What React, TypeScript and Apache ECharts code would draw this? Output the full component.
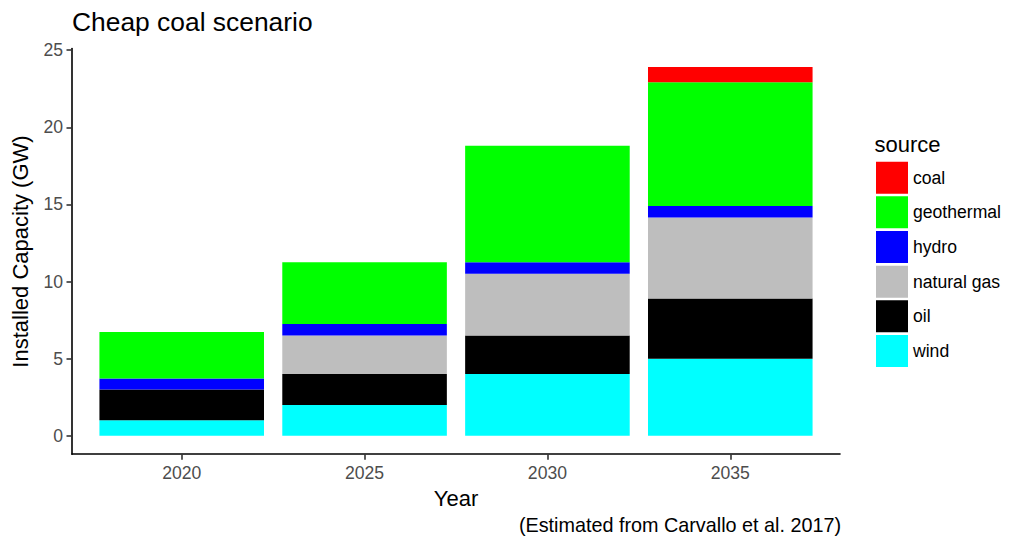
import React, { useEffect, useRef } from "react";
import * as echarts from "echarts";

const years = [2020, 2025, 2030, 2035];
const yTicks = [0, 5, 10, 15, 20, 25];
const wind = [1, 2, 4, 5];
const oil = [2, 2, 2.5, 3.9];
const naturalGas = [0, 2.5, 4, 5.25];
const hydro = [0.72, 0.75, 0.75, 0.74];
const geothermal = [3.0, 4.0, 7.55, 8.03];
const coal = [0, 0, 0, 0.99];

const legendOrder = ["coal", "geothermal", "hydro", "natural gas", "oil", "wind"];
const stackOrder: [string, number[], string][] = [
  ["wind", wind, "#00FFFF"],
  ["oil", oil, "#000000"],
  ["natural gas", naturalGas, "#BEBEBE"],
  ["hydro", hydro, "#0000FF"],
  ["geothermal", geothermal, "#00FF00"],
  ["coal", coal, "#FF0000"],
];

const FONT = "'Liberation Sans', Arial, sans-serif";

export default function App() {
  const ref = useRef<HTMLDivElement>(null);
  useEffect(() => {
    if (!ref.current) return;
    const chart = echarts.init(ref.current, undefined, { renderer: "svg" });
    const totals = years.map((_, i) => stackOrder.reduce((s, [, arr]) => s + arr[i], 0));
    const maxT = Math.max(...totals);
    const pad = maxT * 0.05;
    const xMin = years[0] - 3;
    const xMax = years[years.length - 1] + 3;
    const gridLeft = 72;
    const gridWidth = 768;
    const barWidth = (4.5 / (xMax - xMin)) * gridWidth;
    chart.setOption({
      animation: false,
      textStyle: { fontFamily: FONT },
      grid: { left: gridLeft, top: 48.5, width: gridWidth, height: 405.7, containLabel: false },
      xAxis: {
        type: "value",
        min: xMin,
        max: xMax,
        splitLine: { show: false },
        axisLine: { show: true, onZero: false, lineStyle: { color: "#000", width: 1.6 } },
        axisTick: { show: true, customValues: years, length: 5.5, lineStyle: { color: "#333", width: 1.6 } },
        axisLabel: {
          customValues: years,
          formatter: (v: number) => String(v),
          fontSize: 17.6,
          color: "#4D4D4D",
          fontFamily: FONT,
          margin: 9.5,
        },
      },
      yAxis: {
        type: "value",
        min: -pad,
        max: maxT + pad,
        splitLine: { show: false },
        axisLine: { show: true, onZero: false, lineStyle: { color: "#000", width: 1.6 } },
        axisTick: { show: true, customValues: yTicks, length: 5.5, lineStyle: { color: "#333", width: 1.6 } },
        axisLabel: {
          customValues: yTicks,
          formatter: (v: number) => String(v),
          fontSize: 17.6,
          color: "#4D4D4D",
          fontFamily: FONT,
          margin: 9,
        },
      },
      legend: {
        orient: "vertical",
        left: 876,
        top: 161.7,
        padding: 0,
        itemWidth: 32,
        itemHeight: 32,
        itemGap: 2.65,
        icon: "rect",
        selectedMode: false,
        data: legendOrder,
        textStyle: { fontSize: 17.6, color: "#000", fontFamily: FONT },
      },
      series: stackOrder.map(([name, arr, color]) => ({
        name,
        type: "bar",
        stack: "total",
        barWidth,
        encode: { x: 1, y: 0 },
        data: arr.map((v, i) => [v, years[i]]),
        itemStyle: { color },
        emphasis: { disabled: true },
      })),
      graphic: [
        {
          type: "text",
          x: 72,
          y: 21.85,
          style: { text: "Cheap coal scenario", fontSize: 26.4, fill: "#000", fontFamily: FONT, align: "left", verticalAlign: "middle" },
        },
        {
          type: "text",
          x: 20.4,
          y: 251.5,
          rotation: Math.PI / 2,
          style: { text: "Installed Capacity (GW)", fontSize: 22, fill: "#000", fontFamily: FONT, align: "center", verticalAlign: "middle" },
        },
        {
          type: "text",
          x: 456,
          y: 498.1,
          style: { text: "Year", fontSize: 22, fill: "#000", fontFamily: FONT, align: "center", verticalAlign: "middle" },
        },
        {
          type: "text",
          x: 874.5,
          y: 144.1,
          style: { text: "source", fontSize: 22, fill: "#000", fontFamily: FONT, align: "left", verticalAlign: "middle" },
        },
        {
          type: "text",
          x: 841,
          y: 524.8,
          style: { text: "(Estimated from Carvallo et al. 2017)", fontSize: 19.8, fill: "#000", fontFamily: FONT, align: "right", verticalAlign: "middle" },
        },
      ],
    });
    return () => chart.dispose();
  }, []);
  return <div ref={ref} style={{ position: "absolute", left: 0, top: 0, width: 1024, height: 546 }} />;
}
